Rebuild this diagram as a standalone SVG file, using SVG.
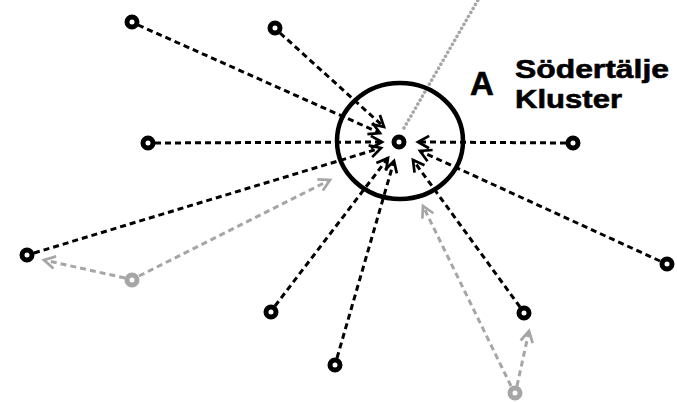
<svg xmlns="http://www.w3.org/2000/svg" width="677" height="402" viewBox="0 0 677 402">
<style>
.bk{fill:none;stroke:#000;stroke-width:3;stroke-dasharray:6 4}
.gr{fill:none;stroke:#a6a6a6;stroke-width:3;stroke-dasharray:6 4}
.node circle{fill:#fff;stroke:#000;stroke-width:5}
.gnode circle{fill:#fff;stroke:#a6a6a6;stroke-width:5}
.t{font-family:"Liberation Sans",Arial,sans-serif;font-weight:bold;fill:#000;stroke:#000;stroke-width:0.6}
</style>
<defs>
<marker id="ab" markerUnits="userSpaceOnUse" markerWidth="16" markerHeight="16" refX="10" refY="6" orient="auto" viewBox="0 0 13 12">
<path d="M1,1 L10,6 L1,11" fill="none" stroke="#000" stroke-width="2.2"/>
</marker>
<marker id="ag" markerUnits="userSpaceOnUse" markerWidth="16" markerHeight="16" refX="10" refY="6" orient="auto" viewBox="0 0 13 12">
<path d="M1,1 L10,6 L1,11" fill="none" stroke="#a6a6a6" stroke-width="2.2"/>
</marker>
</defs>
<g id="connectors">
<line x1="404" y1="128" x2="478" y2="0" stroke="#a6a6a6" stroke-width="3.5" stroke-dasharray="0.1 4.5" stroke-linecap="round"/>
<line class="bk" x1="138" y1="25" x2="380" y2="133" marker-end="url(#ab)"/>
<line class="bk" x1="280" y1="33" x2="384" y2="127" marker-end="url(#ab)"/>
<line class="bk" x1="155" y1="143" x2="382" y2="142" marker-end="url(#ab)"/>
<line class="bk" x1="566" y1="143" x2="418" y2="142" marker-end="url(#ab)"/>
<line class="bk" x1="34" y1="253" x2="381" y2="148" marker-end="url(#ab)"/>
<line class="bk" x1="660" y1="261" x2="420" y2="151" marker-end="url(#ab)"/>
<line class="bk" x1="275" y1="306" x2="388" y2="158" marker-end="url(#ab)"/>
<line class="bk" x1="337" y1="358" x2="394" y2="161" marker-end="url(#ab)"/>
<line class="bk" x1="520" y1="307" x2="413" y2="160" marker-end="url(#ab)"/>
<line class="gr" x1="125" y1="278" x2="44" y2="260" marker-end="url(#ag)"/>
<line class="gr" x1="139" y1="276" x2="330" y2="180" marker-end="url(#ag)"/>
<line class="gr" x1="511" y1="386" x2="423" y2="206" marker-end="url(#ag)"/>
<line class="gr" x1="517" y1="386" x2="529" y2="331" marker-end="url(#ag)"/>
</g>
<g id="cluster">
<ellipse cx="400" cy="141" rx="63" ry="58" fill="none" stroke="#000" stroke-width="4.5"/>
</g>
<g id="center" class="node"><circle cx="399" cy="142" r="5"/></g>
<g id="n1" class="node"><circle cx="132" cy="22" r="5"/></g>
<g id="n2" class="node"><circle cx="275" cy="28" r="5"/></g>
<g id="n3" class="node"><circle cx="148" cy="143" r="5"/></g>
<g id="n4" class="node"><circle cx="573" cy="143" r="5"/></g>
<g id="n5" class="node"><circle cx="27" cy="255" r="5"/></g>
<g id="n6" class="node"><circle cx="667" cy="264" r="5"/></g>
<g id="n7" class="node"><circle cx="271" cy="312" r="5"/></g>
<g id="n8" class="node"><circle cx="335" cy="365" r="5"/></g>
<g id="n9" class="node"><circle cx="524" cy="313" r="5"/></g>
<g id="g1" class="gnode"><circle cx="132" cy="280" r="5"/></g>
<g id="g2" class="gnode"><circle cx="515" cy="393" r="5"/></g>
<g id="label">
<text class="t" x="470" y="95" font-size="33">A</text>
<text class="t" x="515" y="78" font-size="26" textLength="154" lengthAdjust="spacingAndGlyphs">Södertälje</text>
<text class="t" x="515" y="108" font-size="26" textLength="107" lengthAdjust="spacingAndGlyphs">Kluster</text>
</g>
</svg>
